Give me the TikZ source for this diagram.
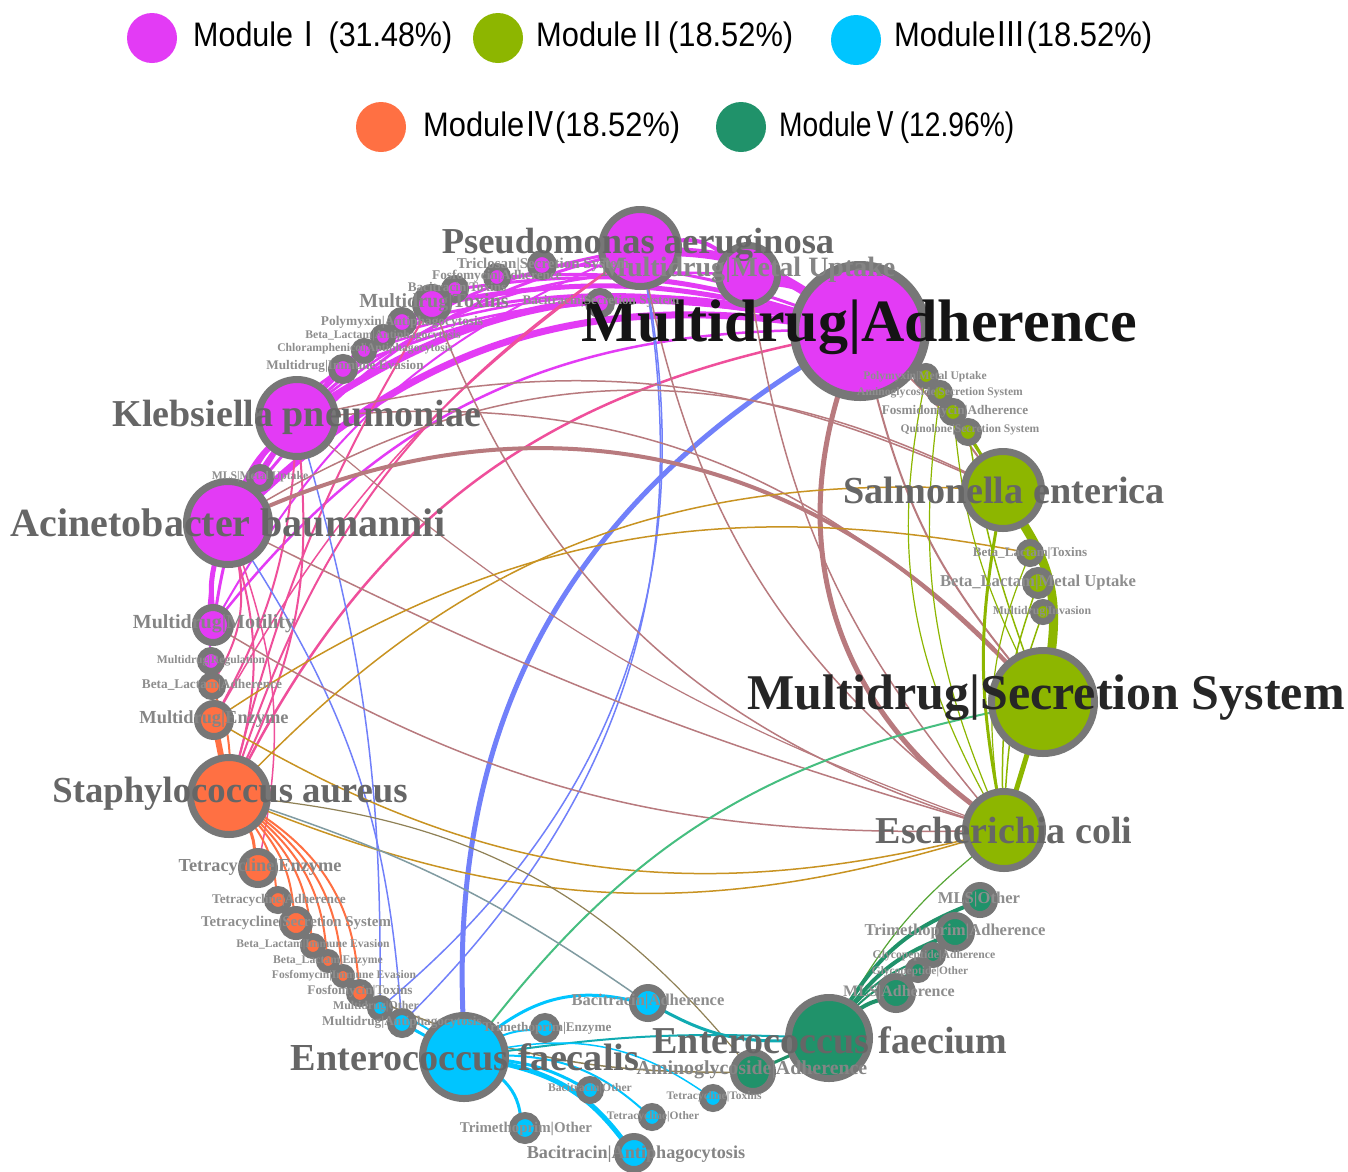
\documentclass[tikz,border=0pt]{standalone}
\usepackage{fontspec}
\usepackage{graphicx}
\setmainfont{Liberation Serif}
\newfontfamily\legfont{Liberation Sans}
\newfontfamily\cjkfont{Noto Sans CJK SC}
\usetikzlibrary{backgrounds}
\definecolor{cI}{HTML}{E33BF5}
\definecolor{cII}{HTML}{8DB600}
\definecolor{cIII}{HTML}{00C5FF}
\definecolor{cIV}{HTML}{FF7043}
\definecolor{cV}{HTML}{20926A}
\definecolor{ringc}{HTML}{777777}
\definecolor{pk}{HTML}{EF4F9B}
\definecolor{bl}{HTML}{7180FA}
\definecolor{rs}{HTML}{B87A7E}
\definecolor{gd}{HTML}{C89322}
\definecolor{gr}{HTML}{46BE80}
\definecolor{ov}{HTML}{56A535}
\definecolor{tc}{HTML}{10ABB2}
\definecolor{gt}{HTML}{809BA1}
\definecolor{br}{HTML}{8F8156}
\definecolor{lblD}{HTML}{666666}
\definecolor{lblM}{HTML}{858585}
\definecolor{lblL}{HTML}{8E8E8E}
\tikzset{
  gnode/.style={circle, inner sep=0pt, outer sep=0pt, line width=7pt, draw=ringc},
  lbltext/.style={inner sep=0pt, outer sep=0pt},
  legdot/.style={circle, inner sep=0pt, minimum size=50pt},
  legtext/.style={anchor=west, inner sep=0pt, font=\legfont\fontsize{34}{34}\selectfont}
}
\newcommand\mknode[4]{\node[gnode, fill=#4, minimum size={2*#3-7}] (#1) at (#2) {};}
\newcommand\mklabel[5]{\node[lbltext, font=\fontsize{#3}{#3}\selectfont\bfseries, text=#4] (#1-l) at (#2) {#5};}
\newcommand\ed[5]{\draw[draw=#3, line width=#4pt] (#1) to[#5] (#2);}
\begin{document}
\begin{tikzpicture}[x=1pt,y=1pt]
\useasboundingbox (0,0) rectangle (1348,-1171);
% ---------- nodes ----------
\node[gnode, line width=9pt, fill=cI, minimum size=131pt] (MA) at (860,-331) {};
\mknode{P}{640,-248}{42}{cI}
\mknode{MMU}{748,-275}{33}{cI}
\mknode{TRI}{542,-265}{15}{cI}
\mknode{FOA}{497,-277}{14}{cI}
\mknode{BTX}{455,-289}{14}{cI}
\mknode{MTX}{432,-304}{20}{cI}
\mknode{PLA}{402,-322}{15}{cI}
\mknode{BLA}{383,-337}{13}{cI}
\mknode{CHA}{364,-351}{13}{cI}
\mknode{MIE}{343,-369}{15}{cI}
\mknode{BSS}{600,-303}{15}{cI}
\mknode{KP}{297,-418}{42}{cI}
\mknode{MLSM}{260,-478}{14}{cI}
\mknode{AB}{228,-523}{45}{cI}
\mknode{MMO}{213,-625}{21}{cI}
\mknode{MRG}{211,-661}{14}{cI}
\mknode{BLAD}{212,-686}{14}{cIV}
\mknode{MEZ}{214,-720}{20}{cIV}
\mknode{SA}{229,-796}{42}{cIV}
\mknode{TEZ}{258,-868}{20}{cIV}
\mknode{TAD}{278,-900}{14}{cIV}
\mknode{TSS}{296,-923}{17}{cIV}
\mknode{BLIE}{313,-946}{13}{cIV}
\mknode{BLEZ}{328,-961}{12}{cIV}
\mknode{FIE}{343,-976}{12}{cIV}
\mknode{FTX}{360,-993}{14}{cIV}
\mknode{MOT}{380,-1008}{13}{cIII}
\mknode{MAP}{402,-1023}{15}{cIII}
\mknode{EFS}{464,-1057}{45}{cIII}
\mknode{TEN}{545,-1028}{15}{cIII}
\mknode{BAD}{648,-1003}{19}{cIII}
\mknode{BOT}{590,-1090}{14}{cIII}
\mknode{TOT}{652,-1117}{14}{cIII}
\mknode{TTX}{713,-1098}{14}{cIII}
\mknode{TRO}{525,-1128}{16}{cIII}
\mknode{BAP}{634,-1153}{20}{cIII}
\mknode{AAD}{753,-1072}{23}{cV}
\mknode{EFM}{829,-1038}{44}{cV}
\mknode{MLA}{896,-993}{20}{cV}
\mknode{GOT}{918,-970}{13}{cV}
\mknode{GAD}{933,-955}{13}{cV}
\mknode{TAH}{955,-932}{20}{cV}
\mknode{MLO}{980,-900}{18}{cV}
\mknode{EC}{1004,-830}{42}{cII}
\mknode{MSS}{1043,-702}{55}{cII}
\mknode{MIN}{1043,-612}{13}{cII}
\mknode{BLM}{1038,-583}{16}{cII}
\mknode{BLT}{1030,-553}{14}{cII}
\mknode{SAL}{1003,-490}{42}{cII}
\mknode{QSS}{968,-432}{14}{cII}
\mknode{FMA}{953,-412}{14}{cII}
\mknode{ASS}{940,-393}{13}{cII}
\mknode{PMU}{926,-376}{13}{cII}
% ---------- edges ----------
\begin{pgfonlayer}{background}
\fill[white] (0,0) rectangle (1348,-1171);
% module I internal
\ed{P}{MA}{cI}{9}{bend left=15}
\ed{MMU}{MA}{cI}{6}{bend left=10}
\ed{P}{MMU}{cI}{4}{bend left=25}
\ed{KP}{MA}{cI}{7}{bend left=22}
\ed{AB}{MA}{cI}{7}{bend left=25}
\ed{MTX}{MA}{cI}{5}{bend left=12}
\ed{TRI}{MA}{cI}{3}{bend left=10}
\ed{FOA}{MA}{cI}{3}{bend left=10}
\ed{BTX}{MA}{cI}{3}{bend left=12}
\ed{BSS}{MA}{cI}{4}{bend left=8}
\ed{PLA}{MA}{cI}{3}{bend left=12}
\ed{BLA}{MA}{cI}{2.5}{bend left=14}
\ed{CHA}{MA}{cI}{2.5}{bend left=14}
\ed{MIE}{MA}{cI}{3}{bend left=16}
\ed{KP}{P}{cI}{3}{bend left=15}
\ed{AB}{P}{cI}{3}{bend left=18}
\ed{KP}{MMU}{cI}{2.5}{bend left=20}
\ed{AB}{KP}{cI}{6}{bend left=10}
\ed{MMO}{AB}{cI}{5}{bend left=10}
\ed{MLSM}{AB}{cI}{3}{bend left=0}
\ed{MLSM}{KP}{cI}{3}{bend left=0}
\ed{MRG}{AB}{cI}{2}{bend left=10}
\ed{MMO}{KP}{cI}{3}{bend left=12}
\ed{MIE}{KP}{cI}{3}{bend right=10}
\ed{MTX}{KP}{cI}{3}{bend right=10}
\ed{AB}{MTX}{cI}{3}{bend left=12}
\ed{AB}{PLA}{cI}{2}{bend left=14}
\ed{MMO}{P}{cI}{2}{bend left=18}
\ed{MMO}{MA}{cI}{2.5}{bend left=25}
% I - IV
\ed{SA}{MA}{pk}{2.5}{bend left=25}
\ed{SA}{P}{pk}{2}{bend left=18}
\ed{SA}{KP}{pk}{2}{bend right=15}
\ed{SA}{AB}{pk}{2}{bend right=15}
\ed{MEZ}{KP}{pk}{2}{bend right=12}
\ed{BLAD}{AB}{pk}{2}{bend right=20}
\ed{SA}{MTX}{pk}{2}{bend left=8}
\ed{MEZ}{P}{pk}{1.5}{bend left=12}
\ed{TEZ}{AB}{pk}{1.5}{bend right=15}
% I - III
\ed{MA}{EFS}{bl}{5}{bend right=30}
\ed{P}{MOT}{bl}{1.5}{bend left=30}
\ed{P}{MAP}{bl}{1.5}{bend left=27}
\ed{KP}{MOT}{bl}{1.5}{bend left=8}
\ed{AB}{MAP}{bl}{1.5}{bend left=14}
% I - II
\ed{MA}{EC}{rs}{5}{bend right=35}
\ed{AB}{MSS}{rs}{4}{bend left=35}
\ed{KP}{SAL}{rs}{1.5}{bend left=18}
\ed{KP}{MSS}{rs}{1.5}{bend left=25}
\ed{AB}{SAL}{rs}{1.5}{bend left=28}
\ed{MMO}{EC}{rs}{1.5}{bend right=16}
\ed{AB}{EC}{rs}{1.5}{bend right=5}
\ed{MTX}{EC}{rs}{1.5}{bend right=25}
\ed{MMU}{EC}{rs}{1.5}{bend right=15}
\ed{MA}{MSS}{rs}{2}{bend right=12}
\ed{MA}{SAL}{rs}{2}{bend left=5}
\ed{P}{EC}{rs}{1.5}{bend right=20}
\ed{KP}{EC}{rs}{1.2}{bend right=10}
% IV - II
\ed{SA}{SAL}{gd}{1.5}{bend left=24}
\ed{MEZ}{BLT}{gd}{1.5}{bend left=22}
\ed{SA}{EC}{gd}{1.5}{bend right=19}
\ed{MEZ}{EC}{gd}{1.5}{bend right=22}
% mixed others
\ed{MSS}{EFS}{gr}{2}{bend right=20}
\ed{SA}{BAD}{gt}{1.5}{bend left=8}
\ed{FTX}{AAD}{br}{1.5}{bend right=12}
\ed{SA}{AAD}{br}{1.2}{bend left=22}
\ed{EC}{EFM}{ov}{1.2}{bend right=10}
\ed{BAD}{EFM}{tc}{3}{bend right=15}
\ed{EFS}{EFM}{tc}{2}{bend left=5}
% module IV internal
\ed{SA}{MEZ}{cIV}{6}{bend left=0}
\ed{SA}{BLAD}{cIV}{2}{bend right=10}
\ed{SA}{TEZ}{cIV}{3}{bend left=10}
\ed{SA}{TAD}{cIV}{2}{bend left=15}
\ed{SA}{TSS}{cIV}{2}{bend left=18}
\ed{SA}{BLIE}{cIV}{2}{bend left=20}
\ed{SA}{BLEZ}{cIV}{2}{bend left=22}
\ed{SA}{FIE}{cIV}{2}{bend left=24}
\ed{SA}{FTX}{cIV}{2}{bend left=26}
% module III internal
\ed{EFS}{BAD}{cIII}{3}{bend left=25}
\ed{EFS}{TEN}{cIII}{2}{bend left=10}
\ed{EFS}{BOT}{cIII}{3}{bend left=10}
\ed{EFS}{TOT}{cIII}{2}{bend left=20}
\ed{EFS}{TTX}{cIII}{1.5}{bend left=22}
\ed{EFS}{BAP}{cIII}{5}{bend left=20}
\ed{EFS}{TRO}{cIII}{3}{bend left=20}
\ed{EFS}{MAP}{cIII}{3}{bend left=0}
\ed{EFS}{MOT}{cIII}{2}{bend right=8}
% module V internal
\ed{EFM}{MLA}{cV}{4}{bend left=10}
\ed{EFM}{GOT}{cV}{2}{bend left=12}
\ed{EFM}{GAD}{cV}{2}{bend left=14}
\ed{EFM}{TAH}{cV}{4}{bend left=15}
\ed{EFM}{MLO}{cV}{4}{bend left=18}
\ed{AAD}{EFM}{cV}{3}{bend left=0}
% module II internal
\ed{SAL}{MSS}{cII}{9}{bend left=20}
\ed{MSS}{EC}{cII}{5}{bend left=0}
\ed{SAL}{EC}{cII}{3}{bend right=10}
\ed{PMU}{EC}{cII}{1.2}{bend right=20}
\ed{ASS}{EC}{cII}{1.2}{bend right=15}
\ed{FMA}{MSS}{cII}{1.2}{bend right=10}
\ed{QSS}{MSS}{cII}{1.5}{bend right=5}
\ed{BLT}{EC}{cII}{1.2}{bend right=15}
\ed{BLM}{EC}{cII}{1.5}{bend right=10}
\ed{MIN}{EC}{cII}{1.5}{bend right=8}
\ed{QSS}{SAL}{cII}{2}{bend left=0}
\ed{FMA}{SAL}{cII}{2}{bend left=0}
\end{pgfonlayer}
% ---------- labels ----------
\mklabel{P}{638,-245}{36.5}{lblD}{Pseudomonas aeruginosa}
\mklabel{MMU}{748,-270}{28}{lblM}{Multidrug|Metal Uptake}
\mklabel{MA}{859,-327}{60}{black!92}{Multidrug|Adherence}
\mklabel{TRI}{543,-265}{15}{lblL}{Triclosan|Secretion System}
\mklabel{FOA}{497,-276}{13.3}{lblL}{Fosfomycin|Adherence}
\mklabel{BTX}{457,-288}{13.2}{lblL}{Bacitracin|Toxins}
\mklabel{MTX}{434,-303}{20}{lblM}{Multidrug|Toxins}
\mklabel{PLA}{402,-322}{13.4}{lblL}{Polymyxin|Antiphagocytosis}
\mklabel{BLA}{383,-336}{11.7}{lblL}{Beta\_Lactam|Antiphagocytosis}
\mklabel{CHA}{365,-349}{11.7}{lblL}{Chloramphenicol|Antiphagocytosis}
\mklabel{MIE}{345,-366}{13.2}{lblL}{Multidrug|Immune Evasion}
\mklabel{BSS}{601,-301}{13.1}{lblL}{Bacitracin|Secretion System}
\mklabel{KP}{297,-417}{38}{lblD}{Klebsiella pneumoniae}
\mklabel{MLSM}{260,-477}{11.7}{lblL}{MLS|Metal Uptake}
\mklabel{AB}{228,-523}{40}{lblD}{Acinetobacter baumannii}
\mklabel{MMO}{214,-624}{20}{lblM}{Multidrug|Motility}
\mklabel{MRG}{211,-661}{11.6}{lblL}{Multidrug|Regulation}
\mklabel{BLAD}{212,-685}{13.3}{lblL}{Beta\_Lactam|Adherence}
\mklabel{MEZ}{214,-719}{18.4}{lblM}{Multidrug|Enzyme}
\mklabel{SA}{230,-794}{36.7}{lblD}{Staphylococcus aureus}
\mklabel{TEZ}{260,-867}{18.3}{lblM}{Tetracycline|Enzyme}
\mklabel{TAD}{279,-900}{13.3}{lblL}{Tetracycline|Adherence}
\mklabel{TSS}{296,-923}{14.9}{lblL}{Tetracycline|Secretion System}
\mklabel{BLIE}{313,-945}{11.6}{lblL}{Beta\_Lactam|Immune Evasion}
\mklabel{BLEZ}{328,-961}{11.7}{lblL}{Beta\_Lactam|Enzyme}
\mklabel{FIE}{344,-976}{11.6}{lblL}{Fosfomycin|Immune Evasion}
\mklabel{FTX}{360,-991}{13.2}{lblL}{Fosfomycin|Toxins}
\mklabel{MOT}{376,-1007}{11.9}{lblL}{Multidrug|Other}
\mklabel{MAP}{402,-1022}{13.3}{lblL}{Multidrug|Antiphagocytosis}
\mklabel{EFS}{465,-1057}{38.2}{lblD}{Enterococcus faecalis}
\mklabel{TEN}{547,-1028}{13.2}{lblL}{Trimethoprim|Enzyme}
\mklabel{BAD}{648,-1002}{16.5}{lblL}{Bacitracin|Adherence}
\mklabel{EFM}{830,-1040}{38}{lblD}{Enterococcus faecium}
\mklabel{AAD}{752,-1070}{19.9}{lblM}{Aminoglycoside|Adherence}
\mklabel{BOT}{590,-1089}{11.6}{lblL}{Bacitracin|Other}
\mklabel{TOT}{653,-1117}{11.5}{lblL}{Tetracycline|Other}
\mklabel{TTX}{714,-1097}{11.5}{lblL}{Tetracycline|Toxins}
\mklabel{TRO}{526,-1129}{14.9}{lblL}{Trimethoprim|Other}
\mklabel{BAP}{636,-1154}{18.2}{lblM}{Bacitracin|Antiphagocytosis}
\mklabel{MLA}{899,-993}{16}{lblL}{MLS|Adherence}
\mklabel{GOT}{920,-972}{11.4}{lblL}{Glycopeptide|Other}
\mklabel{GAD}{934,-956}{11.7}{lblL}{Glycopeptide|Adherence}
\mklabel{TAH}{955,-932}{16.6}{lblL}{Trimethoprim|Adherence}
\mklabel{MLO}{979,-900}{16.6}{lblL}{MLS|Other}
\mklabel{EC}{1004,-830}{38}{lblD}{Escherichia coli}
\mklabel{MSS}{1046,-698}{50}{black!85}{Multidrug|Secretion System}
\mklabel{MIN}{1042,-612}{11.8}{lblL}{Multidrug|Invasion}
\mklabel{BLM}{1038,-583}{16.6}{lblL}{Beta\_Lactam|Metal Uptake}
\mklabel{BLT}{1030,-553}{13.1}{lblL}{Beta\_Lactam|Toxins}
\mklabel{SAL}{1004,-490}{38.2}{lblD}{Salmonella enterica}
\mklabel{QSS}{970,-430}{11.6}{lblL}{Quinolone|Secretion System}
\mklabel{FMA}{955,-411}{13.2}{lblL}{Fosmidomycin|Adherence}
\mklabel{ASS}{940,-393}{11.6}{lblL}{Aminoglycoside|Secretion System}
\mklabel{PMU}{925,-377}{11.6}{lblL}{Polymyxin|Metal Uptake}
% ---------- legend ----------
\node[legdot, fill=cI] (legI) at (152,-38) {};
\node[legtext] (legIt) at (193,-38) {\resizebox{259pt}{\height}{Module{\cjkfont Ⅰ}\,(31.48\%)}};
\node[legdot, fill=cII] (legII) at (498,-38) {};
\node[legtext] (legIIt) at (536,-38) {\resizebox{257pt}{\height}{Module{\cjkfont Ⅱ}(18.52\%)}};
\node[legdot, fill=cIII] (legIII) at (856,-40) {};
\node[legtext] (legIIIt) at (894,-38) {\resizebox{258pt}{\height}{Module{\cjkfont Ⅲ}(18.52\%)}};
\node[legdot, fill=cIV] (legIV) at (381,-127) {};
\node[legtext] (legIVt) at (423,-128) {\resizebox{257pt}{\height}{Module{\cjkfont Ⅳ}(18.52\%)}};
\node[legdot, fill=cV] (legV) at (741,-127) {};
\node[legtext] (legVt) at (779,-128) {\resizebox{235pt}{\height}{Module{\cjkfont Ⅴ}(12.96\%)}};
\end{tikzpicture}
\end{document}
